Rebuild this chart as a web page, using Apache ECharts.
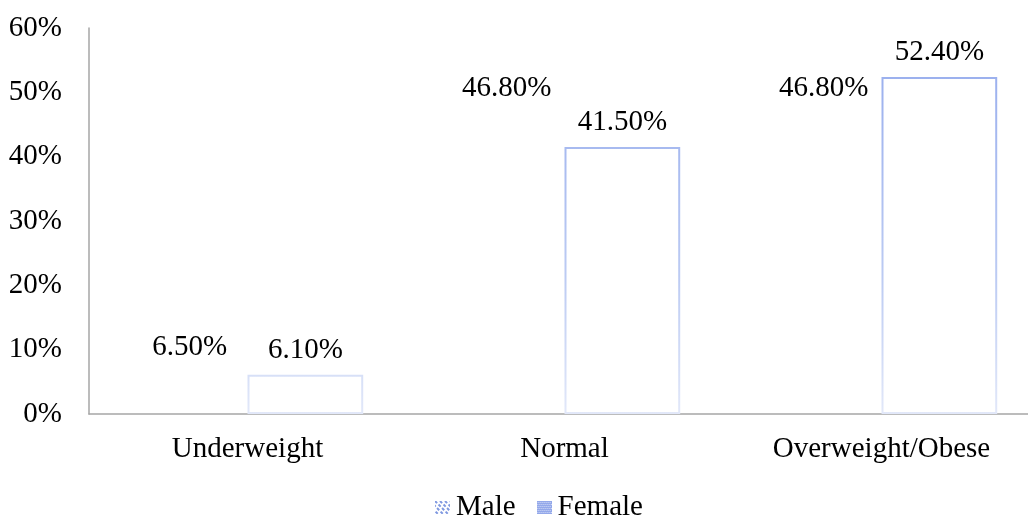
<!DOCTYPE html>
<html>
<head>
<meta charset="utf-8">
<script src="https://cdn.jsdelivr.net/npm/echarts@6/dist/echarts.min.js"></script>
<style>
  html, body { margin: 0; padding: 0; background: #ffffff; }
  #chart { width: 1028px; height: 518px; }
</style>
</head>
<body>
<div id="chart"></div>
<script>
// BMI categories by sex (percent of each group)
const categories = ['Underweight', 'Normal', 'Overweight/Obese'];
const maleValues = [6.5, 46.8, 46.8];
const femaleValues = [6.1, 41.5, 52.4];
const seriesNames = ['Male', 'Female'];
const yTicks = { min: 0, max: 60, interval: 10 };

const FONT = '"Liberation Serif", "Times New Roman", serif';
const FS = 29;
const ICON_W = 15, ICON_H = 13;

// Small patterned swatches for the legend keys, drawn at native size
function swatch(draw) {
  const c = document.createElement('canvas');
  c.width = ICON_W; c.height = ICON_H;
  const g = c.getContext('2d');
  draw(g);
  return 'image://' + c.toDataURL('image/png');
}
const maleIcon = swatch(function (g) {
  g.strokeStyle = '#7f98e0';
  g.lineWidth = 2;
  g.setLineDash([3, 2]);
  for (let k = -ICON_W; k <= ICON_W; k += 5) {
    g.beginPath();
    g.moveTo(k, 0);
    g.lineTo(k + ICON_H, ICON_H);
    g.stroke();
  }
});
const femaleIcon = swatch(function (g) {
  g.fillStyle = '#93a8ea';
  g.fillRect(0, 0, ICON_W, ICON_H);
  g.fillStyle = '#d3dcf7';
  for (let y = 1; y < ICON_H; y += 2) {
    for (let x = (y % 4 === 1 ? 1 : 0); x < ICON_W; x += 2) {
      g.fillRect(x, y, 1, 1);
    }
  }
});

const labelFmt = function (p) { return p.value.toFixed(2) + '%'; };
const labelStyle = {
  show: true,
  position: 'top',
  distance: 10,
  formatter: labelFmt,
  color: '#000',
  fontFamily: FONT,
  fontSize: FS
};

const chart = echarts.init(document.getElementById('chart'), null, { renderer: 'canvas' });
chart.setOption({
  animation: false,
  backgroundColor: '#ffffff',
  textStyle: { fontFamily: FONT },
  grid: { left: 89, width: 951, top: 28, height: 386, containLabel: false, outerBoundsMode: 'none' },
  legend: {
    top: 488,
    left: 430,
    itemWidth: ICON_W,
    itemHeight: ICON_H,
    itemGap: 21,
    textStyle: { color: '#000', fontFamily: FONT, fontSize: FS, padding: [0, 0, 0, 1] },
    data: [
      { name: seriesNames[0], icon: maleIcon },
      { name: seriesNames[1], icon: femaleIcon }
    ]
  },
  xAxis: {
    type: 'category',
    data: categories,
    axisLine: { lineStyle: { color: '#a6a6a6', width: 1.5 } },
    axisTick: { show: false },
    axisLabel: { color: '#000', fontFamily: FONT, fontSize: FS, margin: 21 }
  },
  yAxis: {
    type: 'value',
    min: yTicks.min,
    max: yTicks.max,
    interval: yTicks.interval,
    splitLine: { show: false },
    axisLine: { show: true, lineStyle: { color: '#a6a6a6', width: 1.5 } },
    axisTick: { show: false },
    axisLabel: { color: '#000', fontFamily: FONT, fontSize: FS, margin: 27, formatter: '{value}%' }
  },
  series: [
    {
      name: seriesNames[0],
      type: 'bar',
      data: maleValues,
      barGap: '0%',
      barCategoryGap: '27%',
      itemStyle: { color: 'rgba(255,255,255,0)', borderWidth: 0 },
      label: labelStyle
    },
    {
      name: seriesNames[1],
      type: 'bar',
      data: femaleValues,
      barGap: '0%',
      barCategoryGap: '27%',
      itemStyle: {
        color: '#ffffff',
        borderWidth: 2,
        borderColor: {
          type: 'linear', global: true,
          x: 0, y: 70, x2: 0, y2: 414,
          colorStops: [
            { offset: 0, color: '#9bb0ee' },
            { offset: 0.6, color: '#bccbf3' },
            { offset: 1, color: '#e2e8f9' }
          ]
        }
      },
      label: labelStyle
    }
  ]
});
</script>
</body>
</html>
